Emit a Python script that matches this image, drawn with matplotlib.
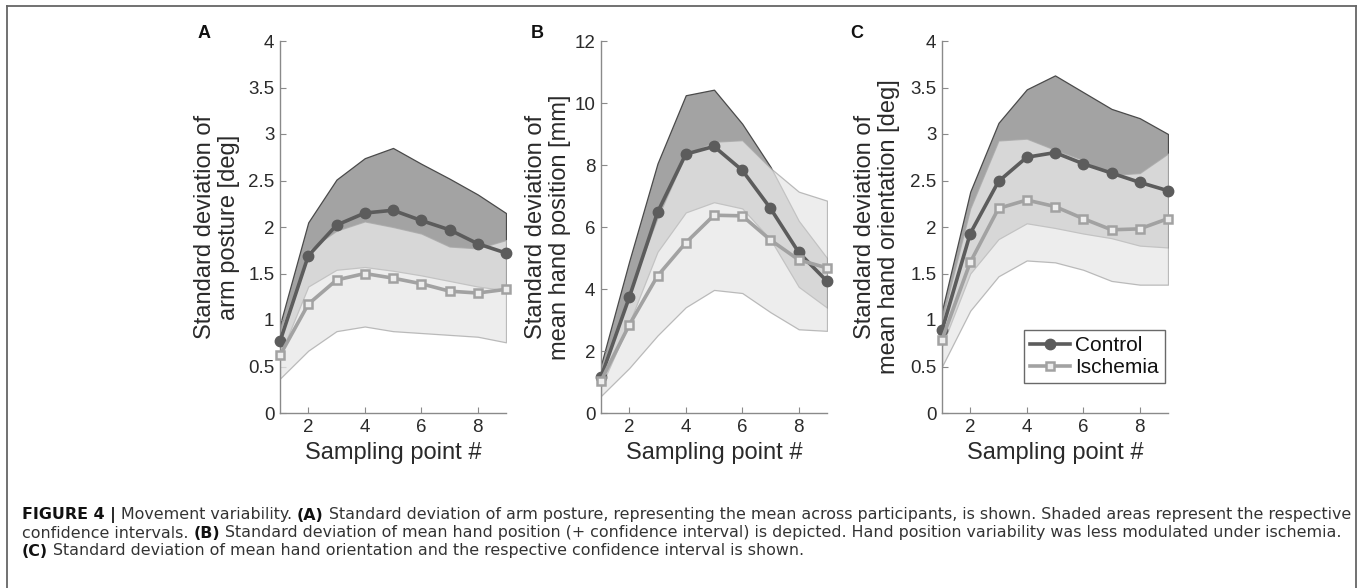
import matplotlib
matplotlib.use("Agg")
import matplotlib.pyplot as plt
from matplotlib.lines import Line2D
import numpy as np

plt.rcParams['font.family'] = ['Liberation Sans', 'DejaVu Sans']

# ---------------- data ----------------
sampling_points = [1, 2, 3, 4, 5, 6, 7, 8, 9]
series_names = ["Control", "Ischemia"]
panel_letters = ["A", "B", "C"]
y_labels = ["Standard deviation of\narm posture [deg]",
            "Standard deviation of\nmean hand position [mm]",
            "Standard deviation of\nmean hand orientation [deg]"]
x_label = "Sampling point #"
x_ticks = [2, 4, 6, 8]
y_ticks_A = [0, 0.5, 1, 1.5, 2, 2.5, 3, 3.5, 4]
y_ticks_B = [0, 2, 4, 6, 8, 10, 12]
y_ticks_C = [0, 0.5, 1, 1.5, 2, 2.5, 3, 3.5, 4]

# Panel A: arm posture
ctrl_mean_A = [0.77, 1.69, 2.02, 2.15, 2.18, 2.07, 1.97, 1.82, 1.72]
ctrl_hi_A = [0.95, 2.05, 2.51, 2.74, 2.85, 2.68, 2.52, 2.35, 2.15]
ctrl_lo_A = [0.62, 1.36, 1.54, 1.57, 1.53, 1.48, 1.42, 1.36, 1.32]
isch_mean_A = [0.62, 1.17, 1.43, 1.50, 1.45, 1.39, 1.31, 1.29, 1.33]
isch_hi_A = [0.88, 1.75, 1.96, 2.06, 2.00, 1.93, 1.79, 1.77, 1.86]
isch_lo_A = [0.37, 0.67, 0.88, 0.93, 0.88, 0.86, 0.84, 0.82, 0.76]

# Panel B: hand position
ctrl_mean_B = [1.16, 3.73, 6.47, 8.35, 8.60, 7.83, 6.60, 5.18, 4.25]
ctrl_hi_B = [1.55, 4.90, 8.05, 10.25, 10.43, 9.33, 7.94, 6.20, 5.00]
ctrl_lo_B = [0.85, 2.90, 5.20, 6.47, 6.80, 6.60, 5.60, 4.07, 3.40]
isch_mean_B = [1.04, 2.84, 4.42, 5.49, 6.38, 6.36, 5.58, 4.94, 4.68]
isch_hi_B = [1.45, 3.90, 6.30, 8.35, 8.75, 8.80, 7.90, 7.14, 6.85]
isch_lo_B = [0.55, 1.45, 2.50, 3.41, 3.97, 3.87, 3.25, 2.70, 2.65]

# Panel C: hand orientation
ctrl_mean_C = [0.89, 1.93, 2.49, 2.75, 2.80, 2.68, 2.58, 2.48, 2.39]
ctrl_hi_C = [1.10, 2.38, 3.12, 3.48, 3.63, 3.45, 3.27, 3.17, 3.00]
ctrl_lo_C = [0.72, 1.50, 1.87, 2.04, 1.99, 1.93, 1.88, 1.80, 1.78]
isch_mean_C = [0.79, 1.62, 2.20, 2.29, 2.22, 2.09, 1.97, 1.98, 2.09]
isch_hi_C = [1.00, 2.20, 2.93, 2.95, 2.83, 2.72, 2.56, 2.58, 2.79]
isch_lo_C = [0.50, 1.10, 1.47, 1.64, 1.62, 1.54, 1.42, 1.38, 1.38]

caption_lines = [
    [("FIGURE 4 |", True), ("Movement variability.", False), ("(A)", True),
     ("Standard deviation of arm posture, representing the mean across participants, is shown. Shaded areas represent the respective", False)],
    [("confidence intervals.", False), ("(B)", True),
     ("Standard deviation of mean hand position (+ confidence interval) is depicted. Hand position variability was less modulated under ischemia.", False)],
    [("(C)", True), ("Standard deviation of mean hand orientation and the respective confidence interval is shown.", False)],
]

# ---------------- styling ----------------
W, H = 1360, 588
fig = plt.figure(figsize=(W / 100, H / 100), dpi=100)

CTRL_LINE = '#5c5c5c'
ISCH_LINE = '#a2a2a2'
CTRL_FILL = '#a3a3a3'
ISCH_FILL = '#e8e8e8'
AX_COL = '#8a8a8a'
TXT_COL = '#2a2a2a'

panels = [
    dict(left=280, ylim=(0, 4), yticks=y_ticks_A,
         cm=ctrl_mean_A, ch=ctrl_hi_A, cl=ctrl_lo_A,
         im=isch_mean_A, ih=isch_hi_A, il=isch_lo_A,
         ylx=-0.278, letter_x=204),
    dict(left=601, ylim=(0, 12), yticks=y_ticks_B,
         cm=ctrl_mean_B, ch=ctrl_hi_B, cl=ctrl_lo_B,
         im=isch_mean_B, ih=isch_hi_B, il=isch_lo_B,
         ylx=-0.236, letter_x=537),
    dict(left=942, ylim=(0, 4), yticks=y_ticks_C,
         cm=ctrl_mean_C, ch=ctrl_hi_C, cl=ctrl_lo_C,
         im=isch_mean_C, ih=isch_hi_C, il=isch_lo_C,
         ylx=-0.288, letter_x=857),
]

ax_top, ax_bot, ax_w = 41, 413, 226

def fmt(v):
    return ('%g' % v)

for i, p in enumerate(panels):
    ax = fig.add_axes([p['left'] / W, (H - ax_bot) / H, ax_w / W, (ax_bot - ax_top) / H])
    x = sampling_points
    ax.fill_between(x, p['cl'], p['ch'], facecolor=CTRL_FILL, edgecolor='#4a4a4a',
                    linewidth=0.9, zorder=1)
    ax.fill_between(x, p['il'], p['ih'], facecolor=ISCH_FILL, edgecolor='#a8a8a8',
                    linewidth=0.9, alpha=0.77, zorder=2)
    ax.plot(x, p['cm'], color=CTRL_LINE, lw=2.6, marker='o', ms=7.5,
            mfc=CTRL_LINE, mec=CTRL_LINE, zorder=3, clip_on=False)
    ax.plot(x, p['im'], color=ISCH_LINE, lw=2.6, marker='s', ms=5.2,
            mfc='#eeeeee', mec=ISCH_LINE, mew=1.8, zorder=4, clip_on=False)
    ax.set_xlim(1, 9)
    ax.set_ylim(*p['ylim'])
    ax.set_xticks(x_ticks)
    ax.set_yticks(p['yticks'])
    ax.set_yticklabels([fmt(v) for v in p['yticks']])
    for s in ['top', 'right']:
        ax.spines[s].set_visible(False)
    for s in ['left', 'bottom']:
        ax.spines[s].set_color(AX_COL)
        ax.spines[s].set_linewidth(1.0)
    ax.tick_params(direction='in', length=4, width=0.8, color=AX_COL,
                   labelsize=13.5, labelcolor=TXT_COL, pad=4)
    ax.patch.set_visible(False)
    ax.text(p['ylx'], 0.5, y_labels[i], transform=ax.transAxes, rotation=90,
            ha='center', va='center', multialignment='center', fontsize=17,
            color=TXT_COL, linespacing=1.1)
    ax.text(0.5, -0.108, x_label, transform=ax.transAxes, ha='center', va='center',
            fontsize=17, color=TXT_COL)
    fig.text(p['letter_x'] / W, 1 - 33 / H, panel_letters[i], ha='center', va='center',
             fontsize=13, fontweight='bold', color='#111111')
    if i == 2:
        handles = [Line2D([0], [0], color=CTRL_LINE, lw=2.6, marker='o', ms=7.5,
                          mfc=CTRL_LINE, mec=CTRL_LINE),
                   Line2D([0], [0], color=ISCH_LINE, lw=2.6, marker='s', ms=5.2,
                          mfc='#eeeeee', mec=ISCH_LINE, mew=1.8)]
        leg = ax.legend(handles, series_names, loc='lower right',
                        bbox_to_anchor=(0.985, 0.08), fontsize=15, frameon=True,
                        fancybox=False, handlelength=1.9, handletextpad=0.25,
                        borderpad=0.3, labelspacing=0.15, borderaxespad=0)
        leg.get_frame().set_edgecolor('#444444')
        leg.get_frame().set_linewidth(1.0)
        leg.set_zorder(10)
        for t in leg.get_texts():
            t.set_color('#111111')

# outer frame (open at bottom)
frame_col = '#666666'
fig.add_artist(Line2D([7 / W, 7 / W], [0, 1 - 6 / H], color=frame_col, lw=1.3))
fig.add_artist(Line2D([7 / W, 1356 / W], [1 - 6 / H, 1 - 6 / H], color=frame_col, lw=1.3))
fig.add_artist(Line2D([1356 / W, 1356 / W], [0, 1 - 6 / H], color=frame_col, lw=1.3))

# caption with bold/normal runs, fitted to the reference line width
fig.canvas.draw()
renderer = fig.canvas.get_renderer()
CAP_FAMILY = ['DejaVu Sans']

def text_width(s, bold, size):
    t = fig.text(0, 0, s, fontsize=size, family=CAP_FAMILY,
                 fontweight='bold' if bold else 'normal')
    w = t.get_window_extent(renderer).width
    t.remove()
    return w

def line_width(line, size):
    sp = text_width("a a", False, size) - text_width("aa", False, size)
    return sum(text_width(s, b, size) for s, b in line) + sp * (len(line) - 1)

base = 10.0
target = 1343 - 22
cap_size = base * target / line_width(caption_lines[0], base)
space_w = text_width("a a", False, cap_size) - text_width("aa", False, cap_size)
line_ys = [515, 533, 551]
for line, yy in zip(caption_lines, line_ys):
    xpix = 22
    for s, bold in line:
        t = fig.text(xpix / W, 1 - yy / H, s, fontsize=cap_size, family=CAP_FAMILY,
                     fontweight='bold' if bold else 'normal',
                     color='#111111' if bold else '#333333',
                     ha='left', va='center')
        w = t.get_window_extent(renderer).width
        xpix += w + space_w

fig.savefig("out.png", dpi=100)
